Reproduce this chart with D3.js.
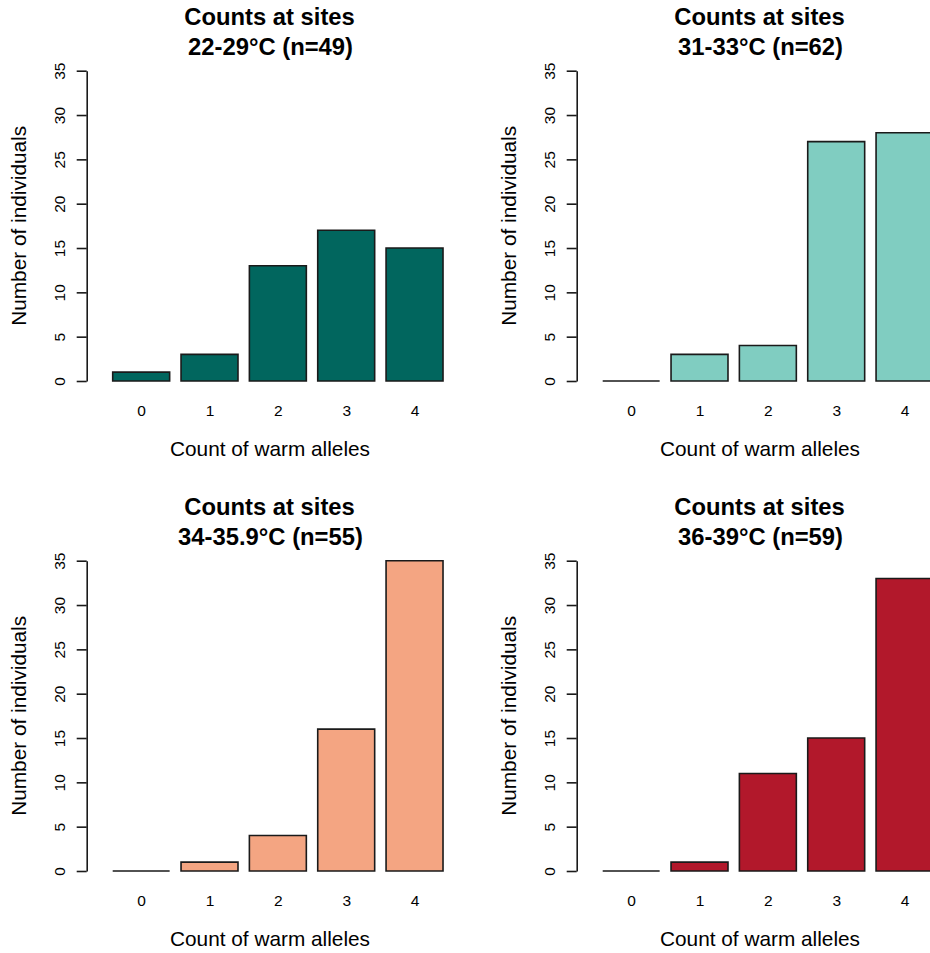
<!DOCTYPE html>
<html>
<head>
<meta charset="utf-8">
<script src="https://cdn.jsdelivr.net/npm/d3@7"></script>
<style>
  html, body { margin: 0; padding: 0; background: #fff; overflow: hidden; }
  svg { display: block; }
  text { font-family: "Liberation Sans", Arial, sans-serif; fill: #000; }
</style>
</head>
<body>
<svg id="chart" width="930" height="953"></svg>
<script>
// ---- data ----
const categories = ["0", "1", "2", "3", "4"];
const titleLine1 = "Counts at sites";
const panelRanges = ["22-29°C (n=49)", "31-33°C (n=62)", "34-35.9°C (n=55)", "36-39°C (n=59)"];
const counts2229 = [1, 3, 13, 17, 15];
const counts3133 = [0, 3, 4, 27, 28];
const counts3436 = [0, 1, 4, 16, 35];
const counts3639 = [0, 1, 11, 15, 33];
const panelColors = ["#01665E", "#80CDC1", "#F4A582", "#B2182B"];
const yTicks = [0, 5, 10, 15, 20, 25, 30, 35];
const xLabel = "Count of warm alleles";
const yLabel = "Number of individuals";

const series = [counts2229, counts3133, counts3436, counts3639];

// ---- layout ----
const svg = d3.select("#chart");
const panelW = 490, panelH = 490;
const plotLeft = 86.7, plotRight = 452.3, plotTop = 70.7, plotBottom = 381;
const centerX = 269.5;

const x = d3.scaleLinear().domain([-0.2565, 6.163]).range([plotLeft, plotRight]);
const y = d3.scaleLinear().domain([0, 35]).range([plotBottom, plotTop]);
const space = 0.2, barW = 1;

series.forEach((vals, p) => {
  const col = p % 2, row = Math.floor(p / 2);
  const g = svg.append("g").attr("transform", `translate(${col * panelW},${row * panelH})`);

  // bars (as closed paths so zero-height bars still show as a line, like R)
  g.selectAll("path.bar")
    .data(vals)
    .join("path")
    .attr("class", "bar")
    .attr("d", (d, i) => {
      const x0 = x(space + i * (barW + space));
      const x1 = x(space + i * (barW + space) + barW);
      const y0 = y(0), y1 = y(d);
      return `M${x0},${y0}H${x1}V${y1}H${x0}Z`;
    })
    .attr("fill", panelColors[p])
    .attr("stroke", "#1a1a1a")
    .attr("stroke-width", 1.6)
    .attr("stroke-linejoin", "miter");

  // y axis
  const yAxis = d3.axisLeft(y).tickValues(yTicks).tickSize(10).tickSizeOuter(0).tickFormat(d3.format("d"));
  const ya = g.append("g").attr("transform", `translate(${plotLeft},0)`).call(yAxis);
  ya.select(".domain").attr("stroke", "#1a1a1a").attr("stroke-width", 1.6);
  ya.selectAll(".tick line").attr("stroke", "#1a1a1a").attr("stroke-width", 1.6);
  ya.selectAll(".tick text")
    .attr("transform", "rotate(-90)")
    .attr("x", 0)
    .attr("y", -21.5)
    .attr("dy", 0)
    .attr("text-anchor", "middle")
    .style("font-size", "15.5px")
    .style("font-family", "'Liberation Sans', Arial, sans-serif")
    .attr("fill", "#000");

  // x category labels (no axis line in base barplot)
  const centers = categories.map((c, i) => space + i * (barW + space) + barW / 2);
  const xAxis = d3.axisBottom(x).tickValues(centers).tickSize(0).tickFormat((d, i) => categories[i]);
  const xa = g.append("g").attr("transform", `translate(0,${plotBottom})`).call(xAxis);
  xa.select(".domain").remove();
  xa.selectAll(".tick text")
    .attr("y", 35)
    .attr("dy", 0)
    .style("font-size", "15.5px")
    .style("font-family", "'Liberation Sans', Arial, sans-serif")
    .attr("fill", "#000");

  // titles
  g.append("text")
    .attr("x", centerX).attr("y", 24.8)
    .attr("text-anchor", "middle")
    .style("font-size", "23.8px").style("font-weight", "bold")
    .text(titleLine1);
  g.append("text")
    .attr("x", centerX + 1).attr("y", 54.6)
    .attr("text-anchor", "middle")
    .style("font-size", "23.8px").style("font-weight", "bold")
    .text(panelRanges[p]);

  // axis titles
  g.append("text")
    .attr("x", centerX + 0.5).attr("y", 455.5)
    .attr("text-anchor", "middle")
    .style("font-size", "20.8px")
    .text(xLabel);
  g.append("text")
    .attr("transform", `translate(26,${(plotTop + plotBottom) / 2}) rotate(-90)`)
    .attr("text-anchor", "middle")
    .style("font-size", "20.8px")
    .text(yLabel);
});
</script>
</body>
</html>
